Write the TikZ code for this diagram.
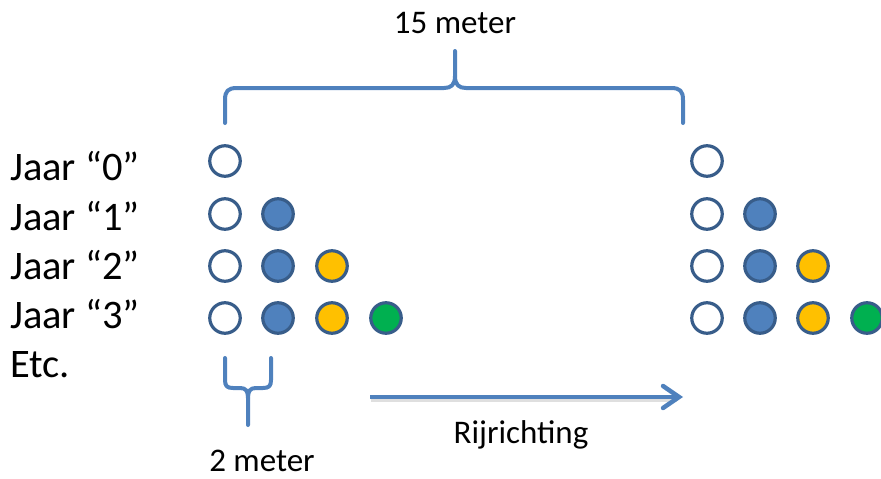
\documentclass[tikz,border=0pt]{standalone}
\usepackage{fontspec}
\setmainfont{Carlito}
\usetikzlibrary{arrows.meta}
\definecolor{accent}{HTML}{4F81BD}
\definecolor{rim}{HTML}{385D8A}
\definecolor{ygold}{HTML}{FFC000}
\definecolor{ggreen}{HTML}{00B050}
\tikzset{
  dot/.style={circle,draw=rim,line width=3.2pt,minimum size=30.5pt,inner sep=0pt},
  emptydot/.style={dot,fill=white},
  bluedot/.style={dot,fill=accent},
  yellowdot/.style={dot,fill=ygold},
  greendot/.style={dot,fill=ggreen},
  bigtext/.style={inner sep=0pt,anchor=base west,font=\fontsize{40.5}{48}\selectfont},
  smalltext/.style={inner sep=0pt,anchor=base,text depth=0pt,font=\fontsize{33}{39}\selectfont},
  bracepath/.style={draw=accent,line width=4pt,line cap=round,line join=round},
}
\begin{document}
\begin{tikzpicture}[x=1pt,y=-1pt]
\useasboundingbox (0,0) rectangle (881,479);
% labels
\node[bigtext] (j0) at (10,180) {Jaar “0”};
\node[bigtext] (j1) at (10,230) {Jaar “1”};
\node[bigtext] (j2) at (10,279) {Jaar “2”};
\node[bigtext] (j3) at (10,328) {Jaar “3”};
\node[bigtext] (etc) at (10,377) {Etc.};
% left group
\node[emptydot] (l00) at (225,161) {};
\node[emptydot] (l10) at (225,214) {};
\node[bluedot]  (l11) at (278,214) {};
\node[emptydot] (l20) at (225,266) {};
\node[bluedot]  (l21) at (278,266) {};
\node[yellowdot] (l22) at (332,266) {};
\node[emptydot] (l30) at (225,318) {};
\node[bluedot]  (l31) at (278,318) {};
\node[yellowdot] (l32) at (332,318) {};
\node[greendot] (l33) at (386,318) {};
% right group
\node[emptydot] (r00) at (707,161) {};
\node[emptydot] (r10) at (707,214) {};
\node[bluedot]  (r11) at (760,214) {};
\node[emptydot] (r20) at (707,266) {};
\node[bluedot]  (r21) at (760,266) {};
\node[yellowdot] (r22) at (813,266) {};
\node[emptydot] (r30) at (707,318) {};
\node[bluedot]  (r31) at (760,318) {};
\node[yellowdot] (r32) at (813,318) {};
\node[greendot] (r33) at (867,318) {};
% top brace
\coordinate (tbl) at (225,123);
\coordinate (tbr) at (683,123);
\coordinate (tbt) at (455,51);
\path[bracepath] (tbl) -- (225,100) .. controls (225,91) and (228,88) .. (237,88) -- (444,88) .. controls (451,88) and (455,85) .. (455,76) -- (tbt);
\path[bracepath] (tbr) -- (683,100) .. controls (683,91) and (680,88) .. (671,88) -- (466,88) .. controls (459,88) and (455,85) .. (455,76);
\node[smalltext] (t15) at (455,33) {15 meter};
% bottom brace
\coordinate (bbl) at (225,358);
\coordinate (bbr) at (271,358);
\coordinate (bbt) at (248,425);
\path[bracepath] (bbl) -- (225,380) .. controls (225,386) and (227,388) .. (233,388) -- (240,388) .. controls (246,388) and (248,391) .. (248,398) -- (bbt);
\path[bracepath] (bbr) -- (271,380) .. controls (271,386) and (269,388) .. (263,388) -- (256,388) .. controls (250,388) and (248,391) .. (248,398);
\node[smalltext] (t2) at (262,471) {2 meter};
% arrow
\coordinate (as) at (370,397);
\coordinate (ae) at (683,397);
\draw[black!25,line width=4.5pt,opacity=0.5] ([shift={(1,2.5)}]as) -- ([shift={(-6,2.5)}]ae);
\draw[accent,line width=4.5pt,-{Straight Barb[length=16pt,width=22pt,line cap=round]}] (as) -- (ae);
\node[smalltext] (rij) at (521,443) {Rijrichting};
\end{tikzpicture}
\end{document}
